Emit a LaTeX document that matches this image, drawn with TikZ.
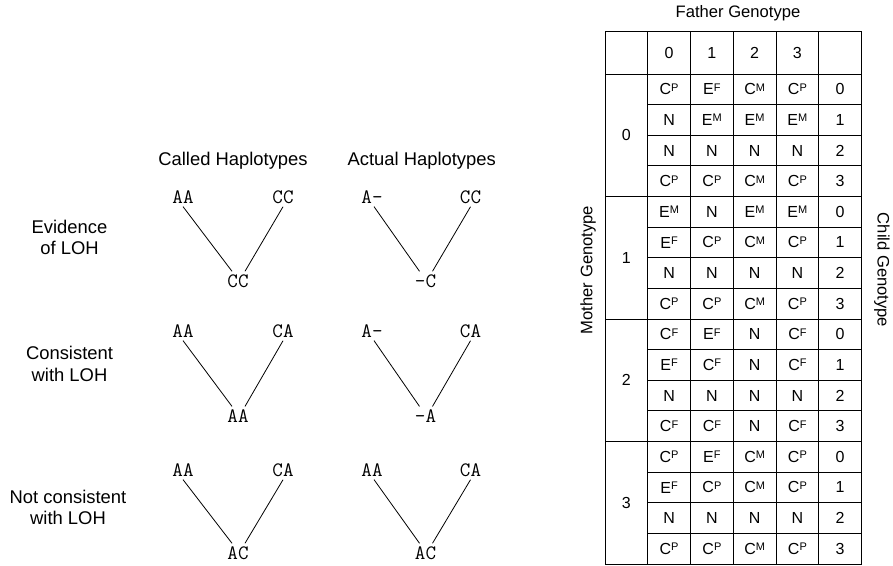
\documentclass[tikz,border=0pt]{standalone}
\usepackage{fontspec}
\setmainfont{Liberation Sans}
\newcommand\gsup[2]{#1\raisebox{3.6pt}{\fontsize{11}{11}\selectfont #2}}
\newcommand\mkrow[6]{%
  \pgfmathsetmacro\ry{74+30.625*(4*#1+#2)+15.3}%
  \node[cell] (t#1#2a) at (669.1,\ry) {#3};
  \node[cell] (t#1#2b) at (711.9,\ry) {#4};
  \node[cell] (t#1#2c) at (754.6,\ry) {#5};
  \node[cell] (t#1#2d) at (797.4,\ry) {#6};
  \node[cell] (k#1#2) at (840.1,\ry) {#2};
}
\begin{document}
\begin{tikzpicture}[x=1pt,y=-1pt,
  lbl/.style={font=\fontsize{18.4}{21.6}\selectfont, align=center, inner sep=0pt},
  hap/.style={font=\ttfamily\fontsize{20.5}{22}\selectfont, inner sep=3pt},
  cell/.style={font=\fontsize{16}{18}\selectfont, inner sep=0pt},
  tlbl/.style={font=\fontsize{16.6}{18}\selectfont, inner sep=0pt},
  link/.style={line width=0.8pt},
  gridline/.style={line width=1pt}]
\useasboundingbox (0,0) rectangle (893,565);

% headings
\node[lbl] (hc) at (233,161) {Called Haplotypes};
\node[lbl] (ha) at (421.7,161) {Actual Haplotypes};
\node[lbl] (l1) at (69.5,237.5) {Evidence\\of LOH};
\node[lbl] (l2) at (69.5,364) {Consistent\\with LOH};
\node[lbl] (l3) at (68,507.5) {Not consistent\\with LOH};

% row 1
\node[hap] (a1) at (183,197) {AA};
\node[hap] (b1) at (283,197) {CC};
\node[hap] (c1) at (238,281) {CC};
\node[hap] (d1) at (372,197) {A-};
\node[hap] (e1) at (470.5,197) {CC};
\node[hap] (f1) at (425.5,281) {-C};
% row 2
\node[hap] (a2) at (183,331) {AA};
\node[hap] (b2) at (283,331) {CA};
\node[hap] (c2) at (238,416) {AA};
\node[hap] (d2) at (372,331) {A-};
\node[hap] (e2) at (470.5,331) {CA};
\node[hap] (f2) at (425.5,416) {-A};
% row 3
\node[hap] (a3) at (183,470) {AA};
\node[hap] (b3) at (283,470) {CA};
\node[hap] (c3) at (238,553) {AC};
\node[hap] (d3) at (372,470) {AA};
\node[hap] (e3) at (470.5,470) {CA};
\node[hap] (f3) at (425.5,553) {AC};

\foreach \i in {1,2,3}{
  \draw[link] (a\i.south) -- ([xshift=-6]c\i.north);
  \draw[link] (b\i.south) -- ([xshift=7]c\i.north);
  \draw[link] ([xshift=2]d\i.south) -- ([xshift=-6]f\i.north);
  \draw[link] (e\i.south) -- ([xshift=7]f\i.north);
}

% table grid
\draw[gridline] (605,31.7) rectangle (861.5,564);
\foreach \x in {647.75,690.5,733.25,776,818.75}
  \draw[gridline] (\x,31.7) -- (\x,564);
\foreach \b in {0,1,2,3}
  \draw[gridline] (605,74+122.5*\b) -- (861.5,74+122.5*\b);
\foreach \b in {0,1,2,3}
  \foreach \k in {1,2,3}
    \draw[gridline] (647.75,74+30.625*4*\b+30.625*\k) -- (861.5,74+30.625*4*\b+30.625*\k);

% table labels
\node[tlbl] (fg) at (738,13) {Father Genotype};
\node[tlbl,rotate=90] (mg) at (588,270) {Mother Genotype};
\node[tlbl,rotate=-90] (cg) at (882,270) {Child Genotype};

\node[cell] (h0) at (669.1,52.8) {0};
\node[cell] (h1) at (711.9,52.8) {1};
\node[cell] (h2) at (754.6,52.8) {2};
\node[cell] (h3) at (797.4,52.8) {3};
\foreach \b in {0,1,2,3}
  \node[cell] (m\b) at (626.4,135.25+122.5*\b) {\b};

\mkrow{0}{0}{\gsup{C}{P}}{\gsup{E}{F}}{\gsup{C}{M}}{\gsup{C}{P}}
\mkrow{0}{1}{N}{\gsup{E}{M}}{\gsup{E}{M}}{\gsup{E}{M}}
\mkrow{0}{2}{N}{N}{N}{N}
\mkrow{0}{3}{\gsup{C}{P}}{\gsup{C}{P}}{\gsup{C}{M}}{\gsup{C}{P}}

\mkrow{1}{0}{\gsup{E}{M}}{N}{\gsup{E}{M}}{\gsup{E}{M}}
\mkrow{1}{1}{\gsup{E}{F}}{\gsup{C}{P}}{\gsup{C}{M}}{\gsup{C}{P}}
\mkrow{1}{2}{N}{N}{N}{N}
\mkrow{1}{3}{\gsup{C}{P}}{\gsup{C}{P}}{\gsup{C}{M}}{\gsup{C}{P}}

\mkrow{2}{0}{\gsup{C}{F}}{\gsup{E}{F}}{N}{\gsup{C}{F}}
\mkrow{2}{1}{\gsup{E}{F}}{\gsup{C}{F}}{N}{\gsup{C}{F}}
\mkrow{2}{2}{N}{N}{N}{N}
\mkrow{2}{3}{\gsup{C}{F}}{\gsup{C}{F}}{N}{\gsup{C}{F}}

\mkrow{3}{0}{\gsup{C}{P}}{\gsup{E}{F}}{\gsup{C}{M}}{\gsup{C}{P}}
\mkrow{3}{1}{\gsup{E}{F}}{\gsup{C}{P}}{\gsup{C}{M}}{\gsup{C}{P}}
\mkrow{3}{2}{N}{N}{N}{N}
\mkrow{3}{3}{\gsup{C}{P}}{\gsup{C}{P}}{\gsup{C}{M}}{\gsup{C}{P}}
\end{tikzpicture}
\end{document}
